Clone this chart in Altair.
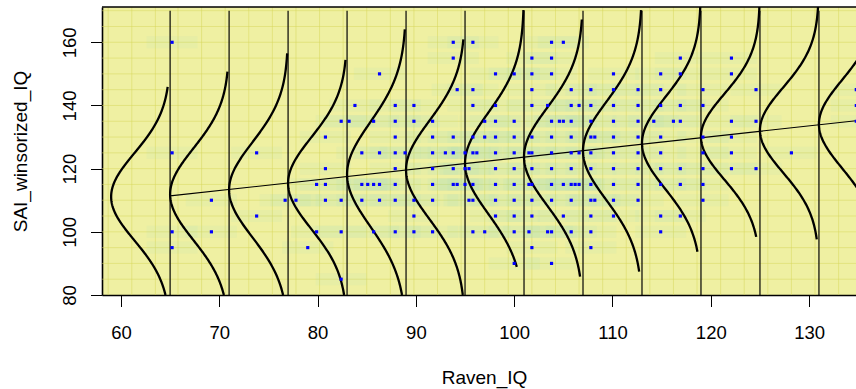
import altair as alt
import pandas as pd
import numpy as np

# ---------------- data ----------------
raven_iq = [
    65.2, 65.2, 65.2, 65.2, 69.2, 69.2, 73.8, 73.8, 76.7, 77.8, 79.0, 79.9, 80.8, 79.9,
    80.8, 80.8, 80.8, 82.4, 83.2, 83.8, 82.4, 82.4, 82.4,
    93.8, 95.8, 103.8, 105.0,
    93.8, 101.8, 103.8,
    86.3, 98.1, 100.0, 101.8, 103.8,
    94.2, 95.8, 101.8, 105.8, 107.8,
    87.9, 89.8, 95.8, 98.1, 101.8, 103.4, 105.8, 106.6, 107.8,
    85.7, 87.9, 89.8, 91.7, 97.0, 98.1, 100.0, 103.8, 104.6, 105.0, 105.8, 107.8,
    87.9, 91.7, 93.8, 95.8, 97.0, 98.1, 100.0, 101.8, 103.8, 105.8, 107.8, 108.2,
    84.5, 86.3, 87.9, 88.9, 91.7, 93.0, 93.8, 95.0, 95.8, 96.2, 98.1, 100.0, 101.5, 101.8, 103.8, 105.8, 106.6, 107.8,
    87.9, 91.7, 93.8, 95.0, 95.4, 98.1, 100.0, 101.8, 103.8, 105.8, 107.8,
    84.5, 85.1, 85.7, 86.3, 87.9, 91.7, 93.8, 94.2, 95.0, 95.8, 98.1, 100.0, 101.5, 101.8, 103.8, 105.0, 105.8, 106.2, 106.6, 107.8,
    84.5, 86.3, 87.9, 89.8, 91.7, 95.4, 95.8, 98.1, 100.0, 101.8, 103.8, 105.8, 107.8, 108.2,
    89.8, 98.1, 100.0, 101.8, 105.0, 107.8,
    85.7, 87.9, 89.8, 91.7, 95.8, 97.0, 100.0, 101.5, 103.4, 103.8, 105.8, 107.8,
    101.8, 107.8,
    100.0, 103.8,
    110.1, 110.1, 110.1, 110.1, 110.1, 110.1, 110.1, 110.1, 110.1, 110.1,
    112.6, 112.6, 112.6, 112.6, 112.6, 112.6, 112.6, 112.6,
    114.2,
    114.9, 114.9, 114.9, 114.9, 114.9, 114.9, 114.9, 114.9, 114.9,
    116.2,
    116.9, 116.9, 116.9, 116.9, 116.9, 116.9, 116.9,
    119.2, 119.2, 119.2, 119.2, 119.2, 119.2, 119.2,
    122.1, 122.1, 122.1, 122.1, 122.1, 122.1,
    124.6, 124.6, 124.6,
    128.2,
    134.8, 134.8, 134.8,
]
sai_iq = [
    160, 125, 100, 95, 110, 100, 125, 105, 110, 110, 95, 115, 115, 100,
    130, 120, 110, 135, 135, 140, 110, 100, 85,
    160, 160, 160, 160,
    155, 155, 155,
    150, 150, 150, 150, 150,
    145, 145, 145, 145, 145,
    140, 140, 140, 140, 140, 140, 140, 140, 140,
    135, 135, 135, 135, 135, 135, 135, 135, 135, 135, 135, 135,
    130, 130, 130, 130, 130, 130, 130, 130, 130, 130, 130, 130,
    125, 125, 125, 125, 125, 125, 125, 125, 125, 125, 125, 125, 125, 125, 125, 125, 125, 125,
    120, 120, 120, 120, 120, 120, 120, 120, 120, 120, 120,
    115, 115, 115, 115, 115, 115, 115, 115, 115, 115, 115, 115, 115, 115, 115, 115, 115, 115, 115, 115,
    110, 110, 110, 110, 110, 110, 110, 110, 110, 110, 110, 110, 110, 110,
    105, 105, 105, 105, 105, 105,
    100, 100, 100, 100, 100, 100, 100, 100, 100, 100, 100, 100,
    95, 95,
    90, 90,
    150, 145, 140, 135, 130, 125, 120, 115, 110, 105,
    145, 140, 135, 130, 125, 120, 115, 110,
    135,
    150, 145, 140, 130, 125, 120, 115, 105, 100,
    135,
    155, 150, 140, 135, 120, 115, 105,
    145, 140, 130, 125, 120, 115, 110,
    155, 150, 135, 130, 125, 120,
    145, 135, 120,
    125,
    145, 140, 135,
]

# vertical separators
line_x = [65, 71, 77, 83, 89, 95, 101, 107, 113, 119, 125, 131]
line_top = 170

# normal curves: right edge (tails), centre, spread, drawn y range
curve_right = [65, 71, 77, 83, 89, 95, 101, 107, 113, 119, 125, 131, 137]
curve_width = 6
curve_mean = [111.1, 111.9, 113.3, 115.4, 118.2, 119.6, 121.7, 123.8, 125.6, 128.1, 130.1, 132.2, 134.1]
curve_sd = [13.8, 14.5, 15.0, 14.5, 16.5, 15.5, 16.0, 15.5, 15.5, 14.5, 13.5, 13.5, 14.0]
curve_lo = [80, 80, 80, 80, 80, 80, 88.9, 85.8, 87.4, 93.7, 98.4, 97.6, 98.0]
curve_hi = [145.9, 150.7, 156.5, 154.4, 164.1, 160.9, 170.2, 167.2, 170.2, 171.2, 171.2, 171.2, 171.2]

# regression line
reg_intercept = 89.2
reg_slope = 0.341
reg_x = [65, 134.77]

x_ticks = [60, 70, 80, 90, 100, 110, 120, 130]
y_ticks = [80, 100, 120, 140, 160]
grid_x = [58.7, 61.1, 63.5, 65.8, 68.2, 70.6, 73.0, 75.4, 77.8, 80.2, 82.6, 85.0, 87.4, 89.8,
          92.2, 94.6, 97.0, 99.4, 101.8, 104.2, 106.6, 109.0, 111.4, 113.8, 116.2, 118.6,
          121.0, 123.4, 125.8, 128.2, 130.6, 133.0]
grid_y = [85, 90, 95, 100, 105, 110, 115, 120, 125, 130, 135, 140, 145, 150, 155, 160, 165, 170]

# ---------------- build tables ----------------
X_DOM = [58.07, 134.77]
Y_DOM = [80, 171.17]
W, H = 754, 288

pts = pd.DataFrame({"Raven_IQ": raven_iq, "SAI": sai_iq})

rows = []
for i, (r, m, s, lo, hi) in enumerate(zip(curve_right, curve_mean, curve_sd, curve_lo, curve_hi)):
    for k, yy in enumerate(np.linspace(lo, hi, 240)):
        rows.append({"curve": i, "k": k, "y": yy,
                     "x": r - curve_width * np.exp(-((yy - m) ** 2) / (2 * s * s))})
curves = pd.DataFrame(rows)

lines = pd.DataFrame({"x": line_x, "y": [Y_DOM[0]] * len(line_x), "y2": [line_top] * len(line_x)})
reg = pd.DataFrame({"x": reg_x, "y": [reg_intercept + reg_slope * v for v in reg_x]})
gx = pd.DataFrame({"x": grid_x})
gy = pd.DataFrame({"y": grid_y})

xs = alt.Scale(domain=X_DOM, nice=False, zero=False)
ys = alt.Scale(domain=Y_DOM, nice=False, zero=False)

FONT = "Liberation Sans"

x_axis = alt.Axis(values=x_ticks, title="Raven_IQ", grid=False, tickSize=11.5, tickColor="black",
                  tickWidth=1, domainColor="black", domainWidth=1.6, labelFont=FONT, labelFontSize=18.5,
                  labelColor="black", labelBaseline="alphabetic", labelPadding=31.8,
                  titleFont=FONT, titleFontSize=19, titleFontWeight="normal", titleColor="black",
                  titleBaseline="alphabetic", titleX=382, titleY=88.6, titleAnchor="start", titleAlign="center")
y_axis = alt.Axis(values=y_ticks, title="SAI_winsorized_IQ", grid=False, tickSize=11.5, tickColor="black",
                  tickWidth=1, domainColor="black", domainWidth=1.6, labelFont=FONT, labelFontSize=18.5,
                  labelColor="black", labelAngle=270, labelAlign="center", labelBaseline="alphabetic",
                  labelPadding=15.2, titleFont=FONT, titleFontSize=19, titleFontWeight="normal",
                  titleColor="black", titleAngle=270, titleAlign="center", titleBaseline="alphabetic",
                  titleX=-76, titleY=144, titleAnchor="start")

grid_v = alt.Chart(gx).mark_rule(color="#d6d65a", strokeWidth=0.9, opacity=0.55).encode(
    x=alt.X("x:Q", scale=xs, axis=x_axis), y=alt.datum(Y_DOM[0]), y2=alt.datum(Y_DOM[1]))
grid_h = alt.Chart(gy).mark_rule(color="#d6d65a", strokeWidth=0.9, opacity=0.55).encode(
    y=alt.Y("y:Q", scale=ys, axis=y_axis), x=alt.datum(X_DOM[0]), x2=alt.datum(X_DOM[1]))

smear = alt.Chart(pts).transform_calculate(
    x1="datum.Raven_IQ - 2.6", x2="datum.Raven_IQ + 2.6",
    y1="datum.SAI - 1.9", y2="datum.SAI + 1.9").mark_rect(
    color="#86d6cc", opacity=0.08, clip=True).encode(
    x=alt.X("x1:Q", scale=xs), x2="x2:Q", y=alt.Y("y1:Q", scale=ys), y2="y2:Q")

vlines = alt.Chart(lines).mark_rule(color="black", strokeWidth=1.4, opacity=0.85).encode(
    x=alt.X("x:Q", scale=xs), y=alt.Y("y:Q", scale=ys), y2="y2:Q")

curve_lines = alt.Chart(curves).mark_line(color="black", strokeWidth=2.3, clip=True).encode(
    x=alt.X("x:Q", scale=xs), y=alt.Y("y:Q", scale=ys), detail="curve:N", order="k:Q")

reg_line = alt.Chart(reg).mark_line(color="black", strokeWidth=1.1, clip=True).encode(
    x=alt.X("x:Q", scale=xs), y=alt.Y("y:Q", scale=ys))

points = alt.Chart(pts).mark_square(color="#0000ff", size=10, opacity=1, clip=True).encode(
    x=alt.X("Raven_IQ:Q", scale=xs), y=alt.Y("SAI:Q", scale=ys))

top_border = alt.Chart(pd.DataFrame({"a": [0]})).mark_rule(color="black", strokeWidth=1.6).encode(
    x=alt.datum(X_DOM[0]), x2=alt.datum(X_DOM[1]), y=alt.datum(Y_DOM[1]))

chart = alt.layer(grid_v, grid_h, smear, vlines, curve_lines, reg_line, points, top_border).properties(
    width=W, height=H,
    autosize=alt.AutoSizeParams(type="none"),
    padding={"left": 102, "top": 7, "right": 0, "bottom": 94},
    background="white",
).configure_view(fill="#eff0a2", stroke=None)

chart.save("out.html", embed_options={"renderer": "svg", "actions": False})
